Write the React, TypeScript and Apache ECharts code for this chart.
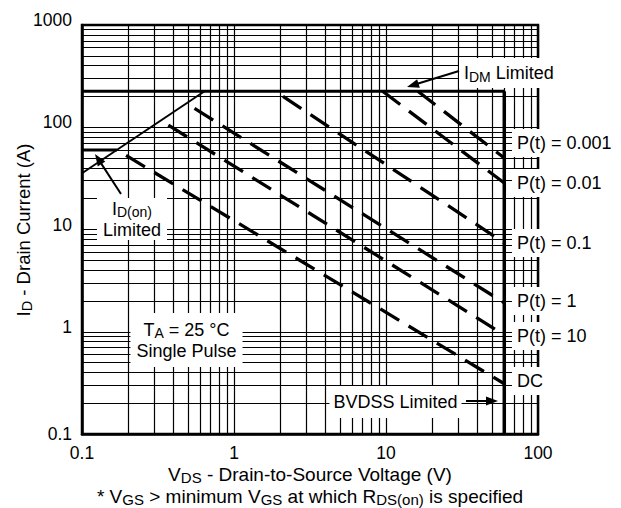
import React, { useEffect, useRef } from "react";
import * as echarts from "echarts";

const FONT = "'Liberation Sans', Arial, Helvetica, sans-serif";

// Axis tick labels
const xTickLabels = ["0.1", "1", "10", "100"];
const yTickLabels = ["0.1", "1", "10", "100", "1000"];

// Log grid: decade starts and multipliers inside a decade
const xDecades = [0.1, 1, 10];
const yDecades = [0.1, 1, 10, 100];
const gridMultipliers = [1, 2, 3, 4, 5, 6, 7, 8, 9];
const xEnd = 100;
const yEnd = 1000;

// Limit lines, points are [VDS (V), ID (A)]
const rdsOnLimit = [[0.1, 35.5], [0.64, 225]];
const idOnLimit = [[0.1, 60], [0.17, 60]];
const idmLimit = [[0.1, 225], [60, 225]];
const bvdssLimit = [[60, 225], [60, 0.1]];

// Pulse curves
const pt0001 = [[16.2, 225], [60, 50]];
const pt001 = [[9.5, 225], [60, 28.5]];
const pt01 = [[2.1, 200], [60, 7.4]];
const pt1 = [[0.55, 153], [60, 1.92]];
const pt10 = [[0.37, 105], [60, 0.93]];
const ptDC = [[0.195, 53], [60, 0.31]];

const gridX = xDecades
  .flatMap((d) => gridMultipliers.map((m) => parseFloat((d * m).toPrecision(6))))
  .concat([xEnd]);
const gridY = yDecades
  .flatMap((d) => gridMultipliers.map((m) => parseFloat((d * m).toPrecision(6))))
  .concat([yEnd]);

const findLabel = (labels: string[], v: number) =>
  labels.find((l) => Math.abs(Number(l) - v) < 1e-6 * Math.max(1, v)) ?? "";

const richText = (lh: number, fs: number) => ({
  m: { fontSize: fs, fontFamily: FONT, fill: "#000", lineHeight: lh, verticalAlign: "middle" },
  s: { fontSize: fs - 4, fontFamily: FONT, fill: "#000", lineHeight: 8, verticalAlign: "bottom" },
});

const label = (
  text: string,
  x: number,
  y: number,
  align: string,
  padding: number[],
  lh = 22,
  bg: string | undefined = "#fff",
  rotation = 0,
  fs = 18
) => ({
  type: "text",
  x,
  y,
  z: 20,
  rotation,
  silent: true,
  style: {
    text,
    rich: richText(lh, fs),
    fontSize: fs,
    fontFamily: FONT,
    fill: "#000",
    align,
    verticalAlign: "middle",
    textAlign: align,
    textVerticalAlign: "middle",
    backgroundColor: bg,
    padding,
  },
});

const arrow = (x1: number, y1: number, x2: number, y2: number, head = 12, half = 4.5, w = 2) => {
  const dx = x2 - x1;
  const dy = y2 - y1;
  const len = Math.sqrt(dx * dx + dy * dy);
  const ux = dx / len;
  const uy = dy / len;
  const bx = x2 - ux * head;
  const by = y2 - uy * head;
  const nx = -uy;
  const ny = ux;
  return [
    {
      type: "line",
      z: 30,
      silent: true,
      shape: { x1, y1, x2: bx + ux * 2, y2: by + uy * 2 },
      style: { stroke: "#000", lineWidth: w },
    },
    {
      type: "polygon",
      z: 30,
      silent: true,
      shape: {
        points: [
          [x2, y2],
          [bx + nx * half, by + ny * half],
          [bx - nx * half, by - ny * half],
        ],
      },
      style: { fill: "#000" },
    },
  ];
};

const solid = (data: number[][], width: number) => ({
  type: "line",
  data,
  symbol: "none",
  z: 3,
  silent: true,
  lineStyle: { color: "#000", width, type: "solid", cap: "butt" },
});

const dashed = (data: number[][]) => ({
  type: "line",
  data,
  symbol: "none",
  z: 3,
  silent: true,
  lineStyle: { color: "#000", width: 3.3, type: [22, 11], cap: "butt" },
});

export default function App() {
  const ref = useRef<HTMLDivElement>(null);
  useEffect(() => {
    if (!ref.current) return;
    const chart = echarts.init(ref.current, undefined, { renderer: "svg" });
    const option: any = {
      animation: false,
      backgroundColor: "#fff",
      grid: {
        left: 82,
        right: 83,
        top: 25,
        bottom: 74,
        show: true,
        borderColor: "#000",
        borderWidth: 2.5,
        backgroundColor: "transparent",
      },
      xAxis: {
        type: "log",
        logBase: 10,
        min: 0.1,
        max: 100,
        axisLine: { show: true, lineStyle: { color: "#000", width: 2.5 } },
        axisTick: { show: false },
        splitLine: { show: false },
        axisLabel: {
          color: "#000",
          fontSize: 17.5,
          fontFamily: FONT,
          margin: 10,
          showMinLabel: true,
          showMaxLabel: true,
          formatter: (v: number) => findLabel(xTickLabels, v),
        },
      },
      yAxis: {
        type: "log",
        logBase: 10,
        min: 0.1,
        max: 1000,
        axisLine: { show: true, lineStyle: { color: "#000", width: 2.5 } },
        axisTick: { show: false },
        splitLine: { show: false },
        axisLabel: {
          color: "#000",
          fontSize: 17.5,
          fontFamily: FONT,
          margin: 10,
          showMinLabel: true,
          showMaxLabel: true,
          formatter: (v: number) => {
            const l = findLabel(yTickLabels, v);
            return l === "0.1" ? `{b|${l}}` : `{u|${l}}`;
          },
          rich: { u: { padding: [0, 0, 10, 0] }, b: {} },
        },
      },
      series: [
        {
          type: "line",
          data: [[0.1, 0.1]],
          symbol: "none",
          z: 1,
          silent: true,
          lineStyle: { width: 0 },
          markLine: {
            silent: true,
            symbol: ["none", "none"],
            label: { show: false },
            emphasis: { disabled: true },
            lineStyle: { color: "#000", width: 1.2, type: "solid" },
            data: [
              ...gridX.map((v) => ({ xAxis: v })),
              ...gridY.map((v) => ({ yAxis: v })),
            ],
          },
        },
        solid(rdsOnLimit, 2),
        solid(idOnLimit, 3),
        solid(idmLimit, 3),
        solid(bvdssLimit, 3.5),
        dashed(pt0001),
        dashed(pt001),
        dashed(pt01),
        dashed(pt1),
        dashed(pt10),
        dashed(ptDC),
      ],
      graphic: {
        z: 20,
        elements: [
          label("{m|I}{s|DM}{m| Limited}", 459, 73, "left", [4, 10, 4, 5]),
          label("{m|P(t) = 0.001}", 512, 143, "left", [3, 20, 3, 5]),
          label("{m|P(t) = 0.01}", 512, 183, "left", [3, 20, 3, 5]),
          label("{m|P(t) = 0.1}", 512, 243, "left", [3, 20, 3, 5]),
          label("{m|P(t) = 1}", 512, 301, "left", [3, 20, 3, 5]),
          label("{m|P(t) = 10}", 512, 336, "left", [3, 20, 3, 5]),
          label("{m|DC}", 512, 381, "left", [3, 20, 3, 5]),
          label("{m|BVDSS Limited}", 395.5, 402, "center", [5, 4, 5, 4]),
          label("{m|I}{s|D(on)}\n{m|Limited}", 132, 219, "center", [0, 6, 0, 6], 21),
          label("{m|T}{s|A}{m| = 25 °C}\n{m|Single Pulse}", 186.5, 340, "center", [6, 6, 6, 6], 21),
          label("{m|V}{s|DS}{m| - Drain-to-Source Voltage (V)}", 310, 474, "center", [0, 0, 0, 0], 22, undefined, 0, 19),
          label(
            "{m|* V}{s|GS}{m| > minimum V}{s|GS}{m| at which R}{s|DS(on)}{m| is specified}",
            310,
            496,
            "center",
            [0, 0, 0, 0],
            22,
            undefined,
            0,
            19
          ),
          label("{m|I}{s|D}{m| - Drain Current (A)}", 23, 230, "center", [0, 0, 0, 0], 22, undefined, Math.PI / 2, 18.5),
          ...arrow(459, 71, 407, 87),
          ...arrow(466, 401, 498, 401),
          ...arrow(121, 194, 95, 154),
        ],
      },
    };
    chart.setOption(option);
    return () => chart.dispose();
  }, []);
  return (
    <div
      ref={ref}
      style={{ position: "fixed", left: 0, top: 0, width: 621, height: 508, background: "#fff" }}
    />
  );
}
